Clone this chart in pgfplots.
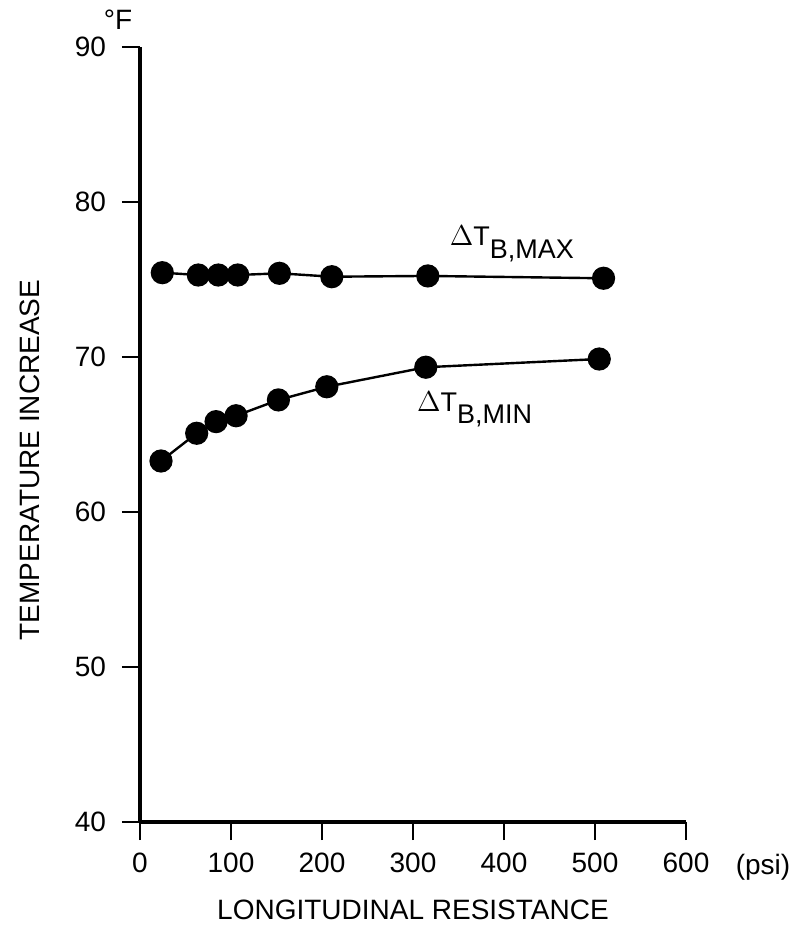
\documentclass[border=0pt]{standalone}
\usepackage{fontspec}
\setmainfont{Liberation Sans}
\usepackage{pgfplots}
\pgfplotsset{compat=1.18}

% Temperature increase vs. longitudinal resistance
\pgfplotstableread{
x      y
24.5   75.44
64.1   75.29
86.1   75.29
107.4  75.29
153.2  75.40
210.8  75.18
316.3  75.23
509.4  75.08
}\tmax
\pgfplotstableread{
x      y
23.1   63.29
62.3   65.08
83.6   65.83
105.6  66.21
152.1  67.23
205.3  68.08
314.1  69.34
504.7  69.87
}\tmin

\begin{document}
\begin{tikzpicture}
\useasboundingbox (-70pt,-53pt) rectangle (327pt,411pt);
\begin{axis}[
  at={(0,0)}, anchor=south west,
  scale only axis, width=273pt, height=387.5pt,
  xmin=0, xmax=600, ymin=40, ymax=90,
  axis x line*=bottom, axis y line*=left,
  axis line style={line width=1.6pt, -},
  xtick={0,100,...,600}, ytick={40,50,...,90},
  tick align=outside, major tick length=9pt,
  tick style={line width=1pt, black},
  ticklabel style={font=\fontsize{14}{16}\selectfont},
  yticklabel style={xshift=-4.5pt},
  xticklabel style={yshift=-3pt},
  /pgf/number format/assume math mode=true,
  clip=false,
]
\addplot[black, line width=1.2pt, mark=*, mark size=5.2pt] table {\tmax};
\addplot[black, line width=1.2pt, mark=*, mark size=5.2pt] table {\tmin};
\node[anchor=west, inner sep=0pt, font=\fontsize{13.5}{15}\selectfont] at (axis cs:340,77.3)
  {$\Delta$T\raisebox{-0.45em}{B,MAX}};
\node[anchor=west, inner sep=0pt, font=\fontsize{13.5}{15}\selectfont] at (axis cs:304,66.6)
  {$\Delta$T\raisebox{-0.45em}{B,MIN}};
\end{axis}
\node[font=\fontsize{14}{16}\selectfont] at (-11pt,401pt) {°F};
\node[rotate=90, font=\fontsize{14}{16}\selectfont] at (-55pt,181pt) {TEMPERATURE INCREASE};
\node[font=\fontsize{14}{16}\selectfont] at (136.5pt,-44pt) {LONGITUDINAL RESISTANCE};
\node[font=\fontsize{14}{16}\selectfont] at (311.5pt,-22.5pt) {(psi)};
\end{tikzpicture}
\end{document}
